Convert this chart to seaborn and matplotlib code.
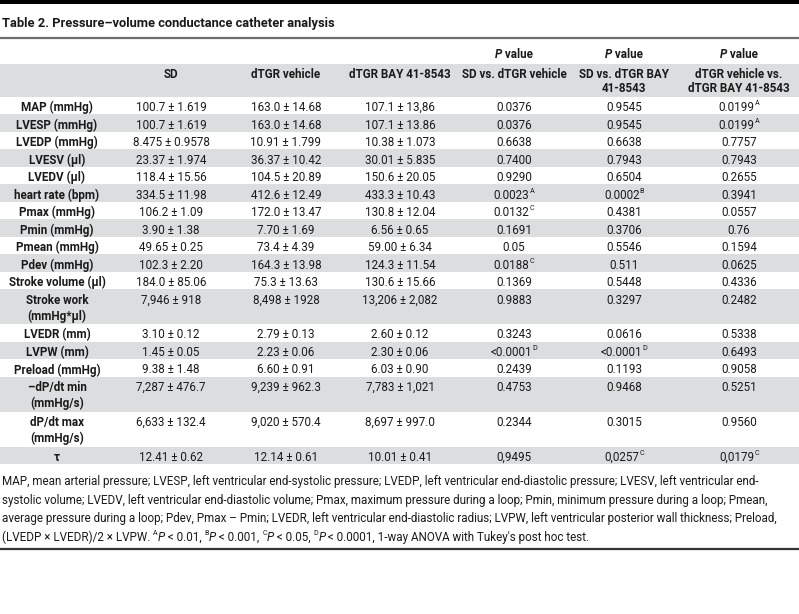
import matplotlib
matplotlib.use("Agg")
import matplotlib.pyplot as plt
import seaborn as sns
from matplotlib import font_manager

# Table content
title = "Table 2. Pressure\u2013volume conductance catheter analysis"

row_labels = ["MAP (mmHg)", "LVESP (mmHg)", "LVEDP (mmHg)", "LVESV (\u03bcl)", "LVEDV (\u03bcl)",
              "heart rate (bpm)", "Pmax (mmHg)", "Pmin (mmHg)", "Pmean (mmHg)", "Pdev (mmHg)",
              "Stroke volume (\u03bcl)", "Stroke work\n(mmHg*\u03bcl)", "LVEDR (mm)", "LVPW (mm)",
              "Preload (mmHg)", "\u2013dP/dt min\n(mmHg/s)", "dP/dt max\n(mmHg/s)", "\u03c4"]

sd_vals = ["100.7 \u00b1 1.619", "100.7 \u00b1 1.619", "8.475 \u00b1 0.9578", "23.37 \u00b1 1.974",
           "118.4 \u00b1 15.56", "334.5 \u00b1 11.98", "106.2 \u00b1 1.09", "3.90 \u00b1 1.38",
           "49.65 \u00b1 0.25", "102.3 \u00b1 2.20", "184.0 \u00b1 85.06", "7,946 \u00b1 918",
           "3.10 \u00b1 0.12", "1.45 \u00b1 0.05", "9.38 \u00b1 1.48", "7,287 \u00b1 476.7",
           "6,633 \u00b1 132.4", "12.41 \u00b1 0.62"]

vehicle_vals = ["163.0 \u00b1 14.68", "163.0 \u00b1 14.68", "10.91 \u00b1 1.799", "36.37 \u00b1 10.42",
                "104.5 \u00b1 20.89", "412.6 \u00b1 12.49", "172.0 \u00b1 13.47", "7.70 \u00b1 1.69",
                "73.4 \u00b1 4.39", "164.3 \u00b1 13.98", "75.3 \u00b1 13.63", "8,498 \u00b1 1928",
                "2.79 \u00b1 0.13", "2.23 \u00b1 0.06", "6.60 \u00b1 0.91", "9,239 \u00b1 962.3",
                "9,020 \u00b1 570.4", "12.14 \u00b1 0.61"]

bay_vals = ["107.1 \u00b1 13,86", "107.1 \u00b1 13.86", "10.38 \u00b1 1.073", "30.01 \u00b1 5.835",
            "150.6 \u00b1 20.05", "433.3 \u00b1 10.43", "130.8 \u00b1 12.04", "6.56 \u00b1 0.65",
            "59.00 \u00b1 6.34", "124.3 \u00b1 11.54", "130.6 \u00b1 15.66", "13,206 \u00b1 2,082",
            "2.60 \u00b1 0.12", "2.30 \u00b1 0.06", "6.03 \u00b1 0.90", "7,783 \u00b1 1,021",
            "8,697 \u00b1 997.0", "10.01 \u00b1 0.41"]

# "^X" marks a superscript footnote letter
p_sd_vehicle = ["0.0376", "0.0376", "0.6638", "0.7400", "0.9290", "0.0023^A", "0.0132^C", "0.1691",
                "0.05", "0.0188^C", "0.1369", "0.9883", "0.3243", "<0.0001^D", "0.2439", "0.4753",
                "0.2344", "0,9495"]
p_sd_bay = ["0.9545", "0.9545", "0.6638", "0.7943", "0.6504", "0.0002^B", "0.4381", "0.3706",
            "0.5546", "0.511", "0.5448", "0.3297", "0.0616", "<0.0001^D", "0.1193", "0.9468",
            "0.3015", "0,0257^C"]
p_vehicle_bay = ["0.0199^A", "0.0199^A", "0.7757", "0.7943", "0.2655", "0.3941", "0.0557", "0.76",
                 "0.1594", "0.0625", "0.4336", "0.2482", "0.5338", "0.6493", "0.9058", "0.5251",
                 "0.9560", "0,0179^C"]

col_headers = ["", "SD", "dTGR vehicle", "dTGR BAY 41-8543", "SD vs. dTGR vehicle",
               "SD vs. dTGR BAY\n41-8543", "dTGR vehicle vs.\ndTGR BAY 41-8543"]
has_p_header = [False, False, False, False, True, True, True]

footnote_lines = [
    "MAP, mean arterial pressure; LVESP, left ventricular end-systolic pressure; LVEDP, left ventricular end-diastolic pressure; LVESV, left ventricular end-",
    "systolic volume; LVEDV, left ventricular end-diastolic volume; Pmax, maximum pressure during a loop; Pmin, minimum pressure during a loop; Pmean,",
    "average pressure during a loop; Pdev, Pmax \u2013 Pmin; LVEDR, left ventricular end-diastolic radius; LVPW, left ventricular posterior wall thickness; Preload,",
]
footnote_last = [("(LVEDP \u00d7 LVEDR)/2 \u00d7 LVPW. ", "n"), ("A", "sup"), ("P", "i"), (" < 0.01, ", "n"),
                 ("B", "sup"), ("P", "i"), (" < 0.001, ", "n"), ("C", "sup"), ("P", "i"),
                 (" < 0.05, ", "n"), ("D", "sup"), ("P", "i"),
                 (" < 0.0001, 1-way ANOVA with Tukey's post hoc test.", "n")]

# Style
sns.set_theme(style="white")
available = {f.name for f in font_manager.fontManager.ttflist}
if "Liberation Sans Narrow" in available:
    FONT, FS, FN = "Liberation Sans Narrow", 9.0, 9.0
else:
    FONT, FS, FN = "Roboto", 8.4, 8.35
plt.rcParams["font.family"] = [FONT, "DejaVu Sans"]
INK = "#1a1a1a"
GREY = "#dcdddf"

W, H = 799, 614
fig = plt.figure(figsize=(W / 100, H / 100), dpi=100)
ax = fig.add_axes([0, 0, 1, 1])
ax.set_xlim(0, W)
ax.set_ylim(H, 0)
ax.axis("off")
renderer = fig.canvas.get_renderer()

col_x = [57, 171, 286, 400, 514, 624, 739]
LINE = 17.48
HEAD_TOP, HEAD_BOT = 64, 97
NUDGE = 2.0  # text sits a bit below the centre of its band


def piece_style(kind, size):
    st = {"fontsize": size, "color": INK}
    if kind in ("b", "bi"):
        st["fontweight"] = "bold"
    if kind in ("i", "bi"):
        st["fontstyle"] = "italic"
    if kind == "sup":
        st["fontsize"] = size * 0.62
    return st


def measure(s, st):
    t1 = ax.text(0, 0, "|" + s + "|", **st)
    t2 = ax.text(0, 0, "||", **st)
    w = t1.get_window_extent(renderer).width - t2.get_window_extent(renderer).width
    t1.remove()
    t2.remove()
    return w


def draw_runs(x, y, runs, align="left", size=FS):
    widths = [measure(s, piece_style(k, size)) for s, k in runs]
    if align == "center":
        x -= sum(widths) / 2
    for (s, k), w in zip(runs, widths):
        dy = -size * 0.45 if k == "sup" else 0
        ax.text(x, y + dy, s, ha="left", va="center", **piece_style(k, size))
        x += w


def draw_cell(x, y, value, kind="n"):
    if "^" in value:
        main, sup = value.split("^")
        draw_runs(x, y, [(main, kind), (sup, "sup")], align="center")
    else:
        for j, line in enumerate(value.split("\n")):
            ax.text(x, y + j * 16, line, ha="center", va="center", **piece_style(kind, FS))


# Frame lines and title
ax.axhspan(0, 4, color="black", lw=0)
ax.text(2, 23, title, ha="left", va="center", fontsize=FS * 1.1, fontweight="bold", color=INK)
ax.axhline(38, color="#6e6e6e", lw=1.6)

# Header
ax.axhspan(HEAD_TOP, HEAD_BOT, color=GREY, lw=0)
for x, head, p in zip(col_x, col_headers, has_p_header):
    if p:
        draw_runs(x, 54.5, [("P", "bi"), (" value", "b")], align="center")
    for j, line in enumerate(head.split("\n")):
        if line:
            ax.text(x, 75 + j * 13.5, line, ha="center", va="center", **piece_style("b", FS))

# Body rows
columns = [sd_vals, vehicle_vals, bay_vals, p_sd_vehicle, p_sd_bay, p_vehicle_bay]
top = HEAD_BOT
for i, label in enumerate(row_labels):
    n_lines = label.count("\n") + 1
    h = LINE * n_lines
    if i % 2 == 1:
        ax.axhspan(top, top + h, color=GREY, lw=0)
    y = top + LINE / 2 + NUDGE
    draw_cell(col_x[0], y, label, kind="b")
    for x, col in zip(col_x[1:], columns):
        draw_cell(x, y, col[i])
    top += h

# Footnote
for j, line in enumerate(footnote_lines):
    ax.text(2, 481.5 + j * 18.7, line, ha="left", va="center", fontsize=FN, color=INK)
draw_runs(2, 481.5 + 3 * 18.7, footnote_last, size=FN)
ax.axhline(549, color="#333333", lw=1.6)

fig.savefig("out.png", dpi=100, facecolor="white")
